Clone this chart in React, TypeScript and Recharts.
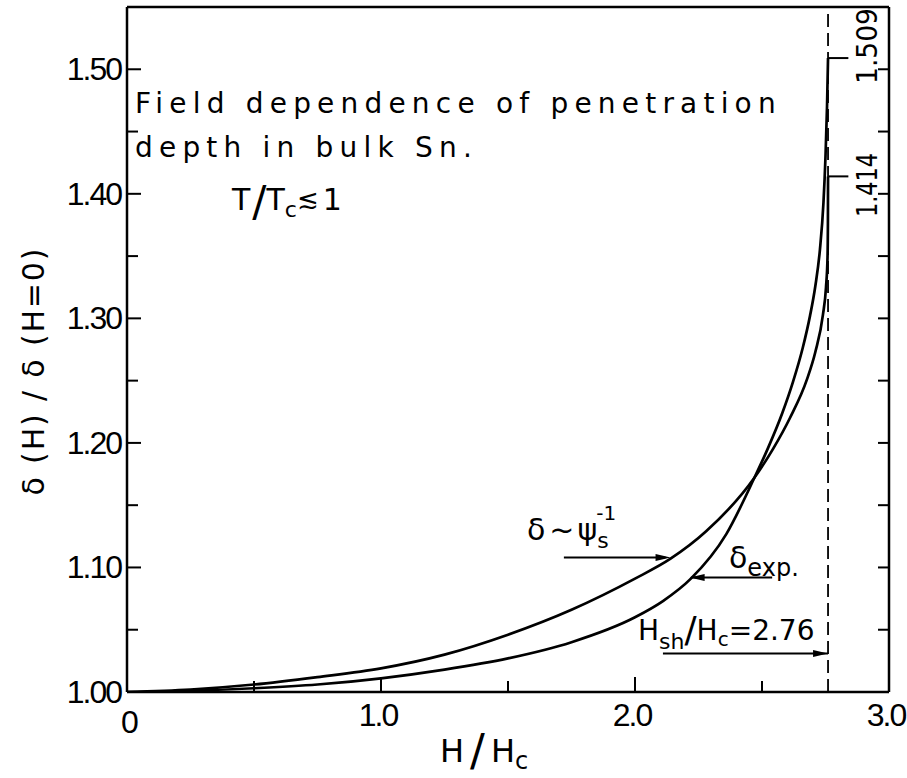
import React from 'react'
import { LineChart, Line, XAxis, YAxis, ReferenceLine, ReferenceDot } from 'recharts'

const NUM_FONT = '"Liberation Sans", Arial, sans-serif'
const TXT_FONT = '"DejaVu Sans", "Liberation Sans", sans-serif'

// δ ~ ψs^-1 estimate: H/Hc and δ(H)/δ(H=0)
const psiH = [0, 0.25, 0.5, 0.75, 1.0, 1.25, 1.5, 1.75, 2.0, 2.14, 2.28, 2.47, 2.543, 2.61, 2.677, 2.71, 2.74, 2.752, 2.758, 2.7595, 2.76]
const psiDelta = [1.0, 1.002, 1.006, 1.012, 1.019, 1.03, 1.046, 1.066, 1.091, 1.107, 1.129, 1.172, 1.195, 1.22, 1.251, 1.273, 1.303, 1.325, 1.349, 1.376, 1.414]

// measured penetration depth
const expH = [0, 0.25, 0.5, 0.75, 1.0, 1.25, 1.5, 1.75, 2.0, 2.11, 2.22, 2.36, 2.47, 2.524, 2.58, 2.622, 2.66, 2.689, 2.71, 2.728, 2.742, 2.75, 2.756, 2.76]
const expDelta = [1.0, 1.001, 1.003, 1.006, 1.011, 1.018, 1.027, 1.04, 1.06, 1.073, 1.091, 1.127, 1.172, 1.196, 1.224, 1.249, 1.276, 1.302, 1.326, 1.355, 1.393, 1.43, 1.47, 1.509]

const xTicks = [0, 0.5, 1.0, 1.5, 2.0, 2.5, 3.0]
const yTicks = [1.0, 1.05, 1.1, 1.15, 1.2, 1.25, 1.3, 1.35, 1.4, 1.45, 1.5]

const hsh = 2.76
const psiEnd = 1.414
const expEnd = 1.509

const psiData = psiH.map((x, i) => ({ x, y: psiDelta[i] }))
const expData = expH.map((x, i) => ({ x, y: expDelta[i] }))

const isMajor = (v: number, step: number) => Math.abs(v / step - Math.round(v / step)) < 1e-6

const LeftTick = (p: any) => {
  const v = p.payload.value
  const major = isMajor(v, 0.1)
  return (
    <g>
      <line x1={p.x} y1={p.y} x2={p.x + (major ? 14 : 11)} y2={p.y} stroke="#000" strokeWidth={2} />
      {major && (
        <text x={p.x - 6} y={p.y} textAnchor="end" dominantBaseline="central" fontSize={32}
          letterSpacing={-2} fontFamily={NUM_FONT} fill="#000">{v.toFixed(2)}</text>
      )}
    </g>
  )
}

const RightTick = (p: any) => {
  if (p.payload.value < 1.01) return null
  return <line x1={p.x} y1={p.y} x2={p.x - 11} y2={p.y} stroke="#000" strokeWidth={2} />
}

const BottomTick = (p: any) => {
  const v = p.payload.value
  const major = isMajor(v, 1)
  if (v === 0) {
    return <text x={p.x + 3} y={p.y + 30} textAnchor="middle" dominantBaseline="central" fontSize={32}
      fontFamily={NUM_FONT} fill="#000">0</text>
  }
  return (
    <g>
      {v < 2.99 && <line x1={p.x} y1={p.y} x2={p.x} y2={p.y - (major ? 15 : 11)} stroke="#000" strokeWidth={2} />}
      {major && (
        <text x={p.x - 3} y={p.y + 23} textAnchor="middle" dominantBaseline="central" fontSize={32}
          letterSpacing={-2} fontFamily={NUM_FONT} fill="#000">{v.toFixed(1)}</text>
      )}
    </g>
  )
}

const TopTick = (p: any) => {
  const v = p.payload.value
  if (v < 0.01 || v > 2.99) return null
  return <line x1={p.x} y1={p.y} x2={p.x} y2={p.y + 14} stroke="#000" strokeWidth={2} />
}

const arrowHead = (dir: number) => (p: any) => {
  const { cx, cy } = p
  return <path d={`M${cx},${cy} L${cx - dir * 15},${cy - 3.5} L${cx - dir * 15},${cy + 3.5} Z`} fill="#000" />
}

const txt = { fontFamily: TXT_FONT, fill: '#000' }
const frame = { stroke: '#000', strokeWidth: 2.5 }

export default function App() {
  return (
    <div style={{ position: 'absolute', left: 0, top: 0, width: 907, height: 778, background: '#fff' }}>
      <LineChart width={907} height={778} margin={{ top: 2, right: 8, bottom: 46, left: 67 }}>
        <XAxis dataKey="x" type="number" domain={[0, 3]} ticks={xTicks} interval={0} height={40}
          tickSize={0} tickMargin={0} tick={BottomTick} allowDataOverflow axisLine={frame} tickLine={false} />
        <XAxis xAxisId="top" orientation="top" type="number" domain={[0, 3]} ticks={xTicks} interval={0}
          height={5} tickSize={0} tickMargin={0} tick={TopTick} allowDataOverflow axisLine={frame} tickLine={false} />
        <YAxis type="number" domain={[1.0, 1.55]} ticks={yTicks} interval={0} width={60}
          tickSize={0} tickMargin={0} tick={LeftTick} allowDataOverflow axisLine={frame} tickLine={false} />
        <YAxis yAxisId="right" orientation="right" type="number" domain={[1.0, 1.55]} ticks={yTicks}
          interval={0} width={10} tickSize={0} tickMargin={0} tick={RightTick} allowDataOverflow
          axisLine={frame} tickLine={false} />

        <ReferenceLine x={hsh} stroke="#000" strokeWidth={1.8} strokeDasharray="13 6" />

        <Line data={psiData} dataKey="y" type="monotoneX" stroke="#000" strokeWidth={2.7} dot={false}
          isAnimationActive={false} />
        <Line data={expData} dataKey="y" type="monotoneX" stroke="#000" strokeWidth={2.7} dot={false}
          isAnimationActive={false} />

        {/* end-value leaders to the rotated labels */}
        <ReferenceLine segment={[{ x: hsh, y: expEnd }, { x: 2.84, y: expEnd }]} stroke="#000" strokeWidth={2} />
        <ReferenceLine segment={[{ x: hsh, y: psiEnd }, { x: 2.84, y: psiEnd }]} stroke="#000" strokeWidth={2} />

        {/* pointer arrows */}
        <ReferenceLine segment={[{ x: 1.72, y: 1.108 }, { x: 2.12, y: 1.108 }]} stroke="#000" strokeWidth={2} />
        <ReferenceDot x={2.14} y={1.108} shape={arrowHead(1)} />
        <ReferenceLine segment={[{ x: 2.22, y: 1.092 }, { x: 2.54, y: 1.092 }]} stroke="#000" strokeWidth={2} />
        <ReferenceDot x={2.215} y={1.092} shape={arrowHead(-1)} />
        <ReferenceLine segment={[{ x: 2.11, y: 1.031 }, { x: hsh, y: 1.031 }]} stroke="#000" strokeWidth={2} />
        <ReferenceDot x={hsh} y={1.031} shape={arrowHead(1)} />
      </LineChart>

      <svg width={907} height={778} style={{ position: 'absolute', left: 0, top: 0, pointerEvents: 'none' }}>
        <text x={135} y={113} fontSize={28} letterSpacing={6.2} {...txt}>
          Field dependence of penetration
        </text>
        <text x={135} y={157} fontSize={28} letterSpacing={6.2} {...txt}>
          depth in bulk Sn.
        </text>
        <text x={232} y={210} fontSize={30} {...txt}>
          T<tspan fontSize={42} dx={2} dy={6}>/</tspan>
          <tspan dy={-6}>T</tspan>
          <tspan fontSize={22} dy={7}>c</tspan>
          <tspan fontSize={26} dy={-9}>≲</tspan>
          <tspan dx={4} dy={2}>1</tspan>
        </text>

        <text transform="translate(44,372) rotate(-90)" textAnchor="middle" fontSize={30} textLength={247}
          lengthAdjust="spacing" {...txt}>δ (H) / δ (H=0)</text>

        <text x={440} y={762} fontSize={32} {...txt}>
          H<tspan fontSize={44} dx={6} dy={4}>/</tspan>
          <tspan dx={6} dy={-4}>H</tspan>
          <tspan fontSize={24} dy={7}>c</tspan>
        </text>

        <text x={527} y={540} fontSize={30} {...txt}>
          δ<tspan dx={4}>~</tspan>
          <tspan dx={3}>ψ</tspan>
          <tspan fontSize={20} dx={-1} dy={-20}>-1</tspan>
          <tspan fontSize={22} dx={-19} dy={28}>s</tspan>
        </text>

        <text x={729} y={568} fontSize={30} {...txt}>
          δ<tspan fontSize={24} dy={8}>exp.</tspan>
        </text>

        <text x={638} y={640} fontSize={28} {...txt}>
          H<tspan fontSize={22} dy={9}>sh</tspan>
          <tspan fontSize={36} dy={-7}>/</tspan>
          <tspan fontSize={28} dy={-2}>H</tspan>
          <tspan fontSize={20} dy={6}>c</tspan>
          <tspan fontSize={28} dy={-6}>=2.76</tspan>
        </text>

        <text transform="translate(877,84) rotate(-90)" fontSize={29} textLength={76} lengthAdjust="spacingAndGlyphs" {...txt}>1.509</text>
        <text transform="translate(877,217) rotate(-90)" fontSize={29} textLength={64} lengthAdjust="spacingAndGlyphs" {...txt}>1.414</text>
      </svg>
    </div>
  )
}
